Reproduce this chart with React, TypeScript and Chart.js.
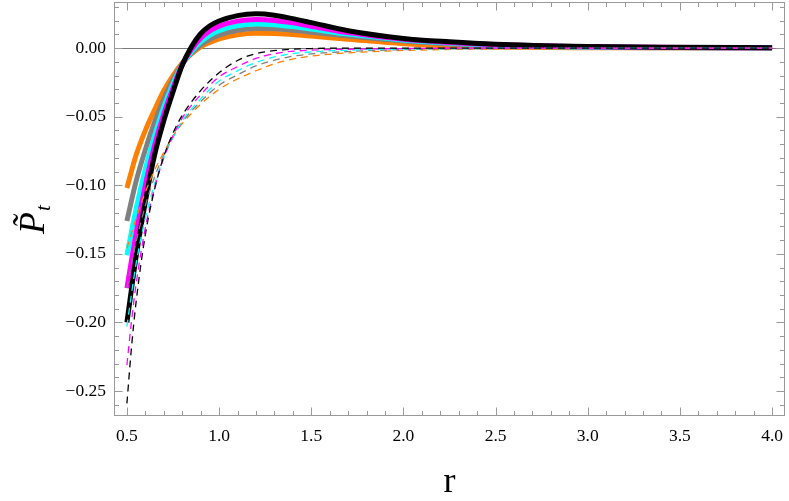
import React, { useEffect, useRef } from "react";
import { Chart, registerables } from "chart.js";

Chart.register(...registerables);

// ---- data ----
const rSolid = [0.5, 0.55, 0.6, 0.65, 0.7, 0.75, 0.8, 0.85, 0.9, 0.95, 1.0, 1.1, 1.2, 1.3, 1.4, 1.5, 1.7, 2.0, 2.25, 2.5, 3.0, 3.5, 4.0];
const solidOrange = [-0.102, -0.078, -0.06, -0.045, -0.031, -0.02, -0.011, -0.0042, 0.001, 0.0042, 0.0067, 0.0097, 0.0108, 0.0107, 0.0099, 0.0088, 0.0065, 0.0032, 0.0016, 0.0008, 0.0003, 0.0002, 0.0001];
const solidGray = [-0.126, -0.097, -0.074, -0.054, -0.037, -0.023, -0.0115, -0.0035, 0.0023, 0.0065, 0.0095, 0.013, 0.0144, 0.0141, 0.013, 0.0116, 0.0088, 0.0052, 0.0031, 0.0018, 0.0006, 0.0003, 0.0001];
const solidCyan = [-0.151, -0.117, -0.088, -0.064, -0.043, -0.026, -0.012, -0.0025, 0.0045, 0.0095, 0.0128, 0.0164, 0.0176, 0.0171, 0.0157, 0.0139, 0.0102, 0.006, 0.0037, 0.0021, 0.0008, 0.0004, 0.0002];
const solidMagenta = [-0.175, -0.135, -0.1, -0.071, -0.048, -0.029, -0.012, -0.001, 0.0072, 0.0125, 0.016, 0.0197, 0.0209, 0.0202, 0.0184, 0.016, 0.0113, 0.0064, 0.0041, 0.0025, 0.001, 0.0005, 0.0002];
const solidBlack = [-0.2, -0.152, -0.112, -0.078, -0.053, -0.032, -0.0125, 0.001, 0.0105, 0.0163, 0.0198, 0.0237, 0.025, 0.024, 0.0215, 0.0186, 0.0127, 0.0071, 0.0046, 0.0028, 0.0012, 0.0006, 0.0003];

const rDashed = [0.5, 0.525, 0.55, 0.6, 0.65, 0.7, 0.75, 0.8, 0.9, 1.0, 1.1, 1.2, 1.35, 1.5, 1.7, 2.0, 2.5, 3.0, 4.0];
const dashedBlack = [-0.259, -0.218, -0.185, -0.136, -0.103, -0.079, -0.062, -0.049, -0.031, -0.018, -0.009, -0.004, -0.0012, -0.0003, 0, 0, 0, 0, 0];
const dashedMagenta = [-0.231, -0.199, -0.172, -0.131, -0.102, -0.08, -0.064, -0.051, -0.034, -0.021, -0.0135, -0.0075, -0.003, -0.0015, -0.0008, -0.0003, 0, 0, 0];
const dashedCyan = [-0.203, -0.179, -0.157, -0.124, -0.099, -0.08, -0.065, -0.053, -0.037, -0.024, -0.0165, -0.0105, -0.005, -0.0028, -0.0015, -0.0006, -0.0002, 0, 0];
const dashedGray = [-0.175, -0.157, -0.141, -0.115, -0.094, -0.078, -0.065, -0.054, -0.039, -0.027, -0.0195, -0.013, -0.0072, -0.0042, -0.0025, -0.0011, -0.0004, -0.0001, 0];
const dashedOrange = [-0.146, -0.135, -0.124, -0.105, -0.089, -0.076, -0.064, -0.055, -0.041, -0.03, -0.0225, -0.0165, -0.0095, -0.0058, -0.0035, -0.0017, -0.0006, -0.0002, 0];

const xTickValues = [0.5, 1.0, 1.5, 2.0, 2.5, 3.0, 3.5, 4.0];
const yTickValues = [-0.25, -0.2, -0.15, -0.1, -0.05, 0.0];
const xRange = [0.43, 4.07];
const yRange = [-0.268, 0.034];

const COLORS = {
  orange: "#ff8000",
  gray: "#808080",
  cyan: "#00ffff",
  magenta: "#ff00ff",
  black: "#000000",
};

const SERIF = "'Liberation Serif', 'Times New Roman', serif";

const toPts = (xs: number[], ys: number[]) => xs.map((x, i) => ({ x, y: ys[i] }));

const fmt = (v: number) => {
  const s = Math.abs(v).toFixed(2);
  return v < -1e-9 ? "\u2212" + s : s;
};

const framePlugin = {
  id: "framePlugin",
  beforeDatasetsDraw(chart: any) {
    const { ctx, chartArea, scales } = chart;
    const y0 = Math.round(scales.y.getPixelForValue(0)) + 0.5;
    ctx.save();
    ctx.strokeStyle = "#7a7a7a";
    ctx.lineWidth = 1;
    ctx.beginPath();
    ctx.moveTo(chartArea.left, y0);
    ctx.lineTo(chartArea.right, y0);
    ctx.stroke();
    ctx.restore();
  },
  afterDraw(chart: any) {
    const { ctx, chartArea, scales } = chart;
    const { left, right, top, bottom } = chartArea;
    const xs = scales.x;
    const ys = scales.y;
    ctx.save();
    ctx.strokeStyle = "#999999";
    ctx.lineWidth = 1;
    const L = Math.round(left) + 0.5;
    const R = Math.round(right) - 0.5;
    const T = Math.round(top) + 0.5;
    const B = Math.round(bottom) - 0.5;
    ctx.strokeRect(L, T, R - L, B - T);
    ctx.beginPath();
    for (let i = 0; i <= 35; i++) {
      const v = 0.5 + i * 0.1;
      const major = i % 5 === 0;
      const len = major ? 8 : 4.5;
      const px = Math.round(xs.getPixelForValue(v)) + 0.5;
      ctx.moveTo(px, B);
      ctx.lineTo(px, B - len);
      ctx.moveTo(px, T);
      ctx.lineTo(px, T + len);
    }
    for (let i = -26; i <= 3; i++) {
      const v = i * 0.01;
      const major = i % 5 === 0;
      const len = major ? 8 : 4.5;
      const py = Math.round(ys.getPixelForValue(v)) + 0.5;
      ctx.moveTo(L, py);
      ctx.lineTo(L + len, py);
      ctx.moveTo(R, py);
      ctx.lineTo(R - len, py);
    }
    ctx.stroke();

    ctx.fillStyle = "#000";
    ctx.textAlign = "center";
    ctx.textBaseline = "alphabetic";
    ctx.font = `36px ${SERIF}`;
    ctx.fillText("r", (left + right) / 2, 492);

    ctx.translate(44, 234);
    ctx.rotate(-Math.PI / 2);
    ctx.textAlign = "left";
    ctx.font = `italic 36px ${SERIF}`;
    ctx.fillText("P\u0303", 0, 0);
    const w = ctx.measureText("P").width;
    ctx.font = `italic 21px ${SERIF}`;
    ctx.fillText("t", w + 1, 6);
    ctx.restore();
  },
};

const zeroPad = (scale: any) => {
  scale.paddingTop = 0;
  scale.paddingBottom = 0;
  scale.paddingLeft = 0;
  scale.paddingRight = 0;
};

export default function App() {
  const ref = useRef<HTMLCanvasElement | null>(null);
  useEffect(() => {
    if (!ref.current) return;
    const solid = (data: number[], color: string, order: number) => ({
      data: toPts(rSolid, data),
      borderColor: color,
      backgroundColor: color,
      borderWidth: 5,
      pointRadius: 0,
      fill: false,
      cubicInterpolationMode: "monotone" as const,
      order,
    });
    const dashed = (data: number[], color: string, order: number) => ({
      data: toPts(rDashed, data),
      borderColor: color,
      backgroundColor: color,
      borderWidth: 1.3,
      borderDash: [7, 5],
      pointRadius: 0,
      fill: false,
      cubicInterpolationMode: "monotone" as const,
      order,
    });
    const chart = new Chart(ref.current, {
      type: "line",
      data: {
        datasets: [
          solid(solidOrange, COLORS.orange, 10),
          solid(solidGray, COLORS.gray, 9),
          solid(solidCyan, COLORS.cyan, 8),
          solid(solidMagenta, COLORS.magenta, 7),
          solid(solidBlack, COLORS.black, 6),
          dashed(dashedOrange, COLORS.orange, 5),
          dashed(dashedGray, COLORS.gray, 4),
          dashed(dashedCyan, COLORS.cyan, 3),
          dashed(dashedMagenta, COLORS.magenta, 2),
          dashed(dashedBlack, COLORS.black, 1),
        ],
      },
      options: {
        responsive: false,
        animation: false,
        devicePixelRatio: 1,
        layout: { padding: { top: 1.5, right: 4, left: 0, bottom: 0 } },
        plugins: { legend: { display: false }, tooltip: { enabled: false } },
        scales: {
          x: {
            type: "linear",
            min: xRange[0],
            max: xRange[1],
            grid: { display: false, drawTicks: false },
            border: { display: false },
            ticks: {
              color: "#000",
              font: { family: SERIF, size: 17.5 },
              padding: 10,
              maxRotation: 0,
              callback: (v: any) => Number(v).toFixed(1),
            },
            afterBuildTicks: (scale: any) => {
              scale.ticks = xTickValues.map((value) => ({ value }));
            },
            afterFit: (scale: any) => {
              scale.height = 85.3;
              zeroPad(scale);
            },
          },
          y: {
            type: "linear",
            min: yRange[0],
            max: yRange[1],
            grid: { display: false, drawTicks: false },
            border: { display: false },
            ticks: {
              color: "#000",
              font: { family: SERIF, size: 17.5 },
              padding: 8,
              callback: (v: any) => fmt(Number(v)),
            },
            afterBuildTicks: (scale: any) => {
              scale.ticks = yTickValues.map((value) => ({ value }));
            },
            afterFit: (scale: any) => {
              scale.width = 114;
              zeroPad(scale);
            },
          },
        },
      },
      plugins: [framePlugin],
    } as any);
    return () => chart.destroy();
  }, []);
  return (
    <div style={{ position: "absolute", left: 0, top: 0, width: 789, height: 501, background: "#fff" }}>
      <canvas ref={ref} width={789} height={501} />
    </div>
  );
}
